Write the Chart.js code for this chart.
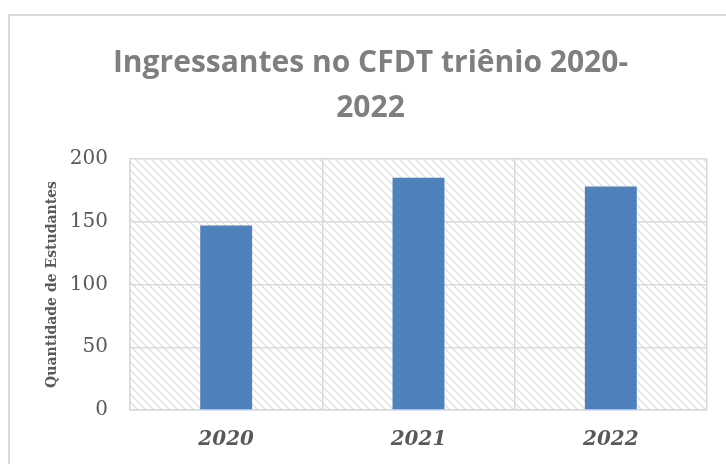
<!DOCTYPE html>
<html>
<head>
<meta charset="utf-8">
<script src="https://cdn.jsdelivr.net/npm/chart.js@4.4.0/dist/chart.umd.min.js"></script>
<style>
    html, body { margin: 0; padding: 0; background: #fff; }
    #frame {
        position: absolute; left: 8px; top: 14px; width: 730px; height: 460px;
        border-top: 2px solid #d9d9d9; border-left: 2px solid #d9d9d9;
    }
    #wrap { position: absolute; left: 0; top: 0; width: 726px; height: 464px; }
</style>
</head>
<body>
<div id="frame"></div>
<div id="wrap"><canvas id="chartIngressantes" width="726" height="464"></canvas></div>
<script>
    const years = ['2020', '2021', '2022'];
    const ingressantes = [147, 185, 178];
    const yMin = 0;
    const yMax = 200;
    const yStep = 50;

    function makeHatch() {
        var c = document.createElement('canvas');
        c.width = 8;
        c.height = 8;
        var g = c.getContext('2d');
        g.fillStyle = '#ffffff';
        g.fillRect(0, 0, 8, 8);
        g.strokeStyle = '#dedede';
        g.lineWidth = 1.3;
        g.beginPath();
        g.moveTo(-2, -2); g.lineTo(10, 10);
        g.moveTo(-2, 6); g.lineTo(2, 10);
        g.moveTo(6, -2); g.lineTo(10, 2);
        g.stroke();
        return c;
    }

    const hatchBackground = {
        id: 'hatchBackground',
        beforeDraw(chart) {
            const ctx = chart.ctx;
            const a = chart.chartArea;
            ctx.save();
            ctx.fillStyle = ctx.createPattern(makeHatch(), 'repeat');
            ctx.fillRect(a.left, a.top, a.right - a.left, a.bottom - a.top);
            ctx.restore();
        }
    };

    const ctx = document.getElementById('chartIngressantes');
    const data = {
        labels: years,
        datasets: [{
            label: 'Ingressantes',
            data: ingressantes,
            backgroundColor: '#4F81BD',
            borderWidth: 0,
            categoryPercentage: 1,
            barPercentage: 0.27
        }]
    };
    const config = {
        type: 'bar',
        data: data,
        plugins: [hatchBackground],
        options: {
            responsive: false,
            animation: false,
            layout: {
                padding: {left: 34, right: 19, top: 0, bottom: 0}
            },
            plugins: {
                legend: {display: false},
                tooltip: {enabled: false},
                title: {
                    display: true,
                    text: ['Ingressantes no CFDT triênio 2020-', '2022'],
                    color: '#7F7F7F',
                    font: {family: 'Open Sans', size: 30, weight: 'bold', lineHeight: 1.5},
                    padding: {top: 41, bottom: 28}
                }
            },
            scales: {
                x: {
                    grid: {color: '#d9d9d9', lineWidth: 1.5, drawTicks: false},
                    border: {color: '#d9d9d9', width: 1.5},
                    ticks: {
                        color: '#595959',
                        padding: 18,
                        font: {family: 'DejaVu Serif', size: 20, weight: 'bold', style: 'italic'}
                    },
                    afterFit: function (scale) { scale.height = 54; }
                },
                y: {
                    min: yMin,
                    max: yMax,
                    grid: {color: '#d9d9d9', lineWidth: 1.5, drawTicks: false},
                    border: {color: '#d9d9d9', width: 1.5},
                    ticks: {
                        stepSize: yStep,
                        color: '#595959',
                        padding: 22,
                        font: {family: 'DejaVu Serif', size: 20}
                    },
                    title: {
                        display: true,
                        text: 'Quantidade de Estudantes',
                        color: '#595959',
                        font: {family: 'DejaVu Serif', size: 14, weight: 'bold'},
                        padding: {top: 10, bottom: 0}
                    },
                    afterFit: function (scale) { scale.width = 96; }
                }
            }
        }
    };
    const myChart = new Chart(ctx, config);
</script>
</body>
</html>
